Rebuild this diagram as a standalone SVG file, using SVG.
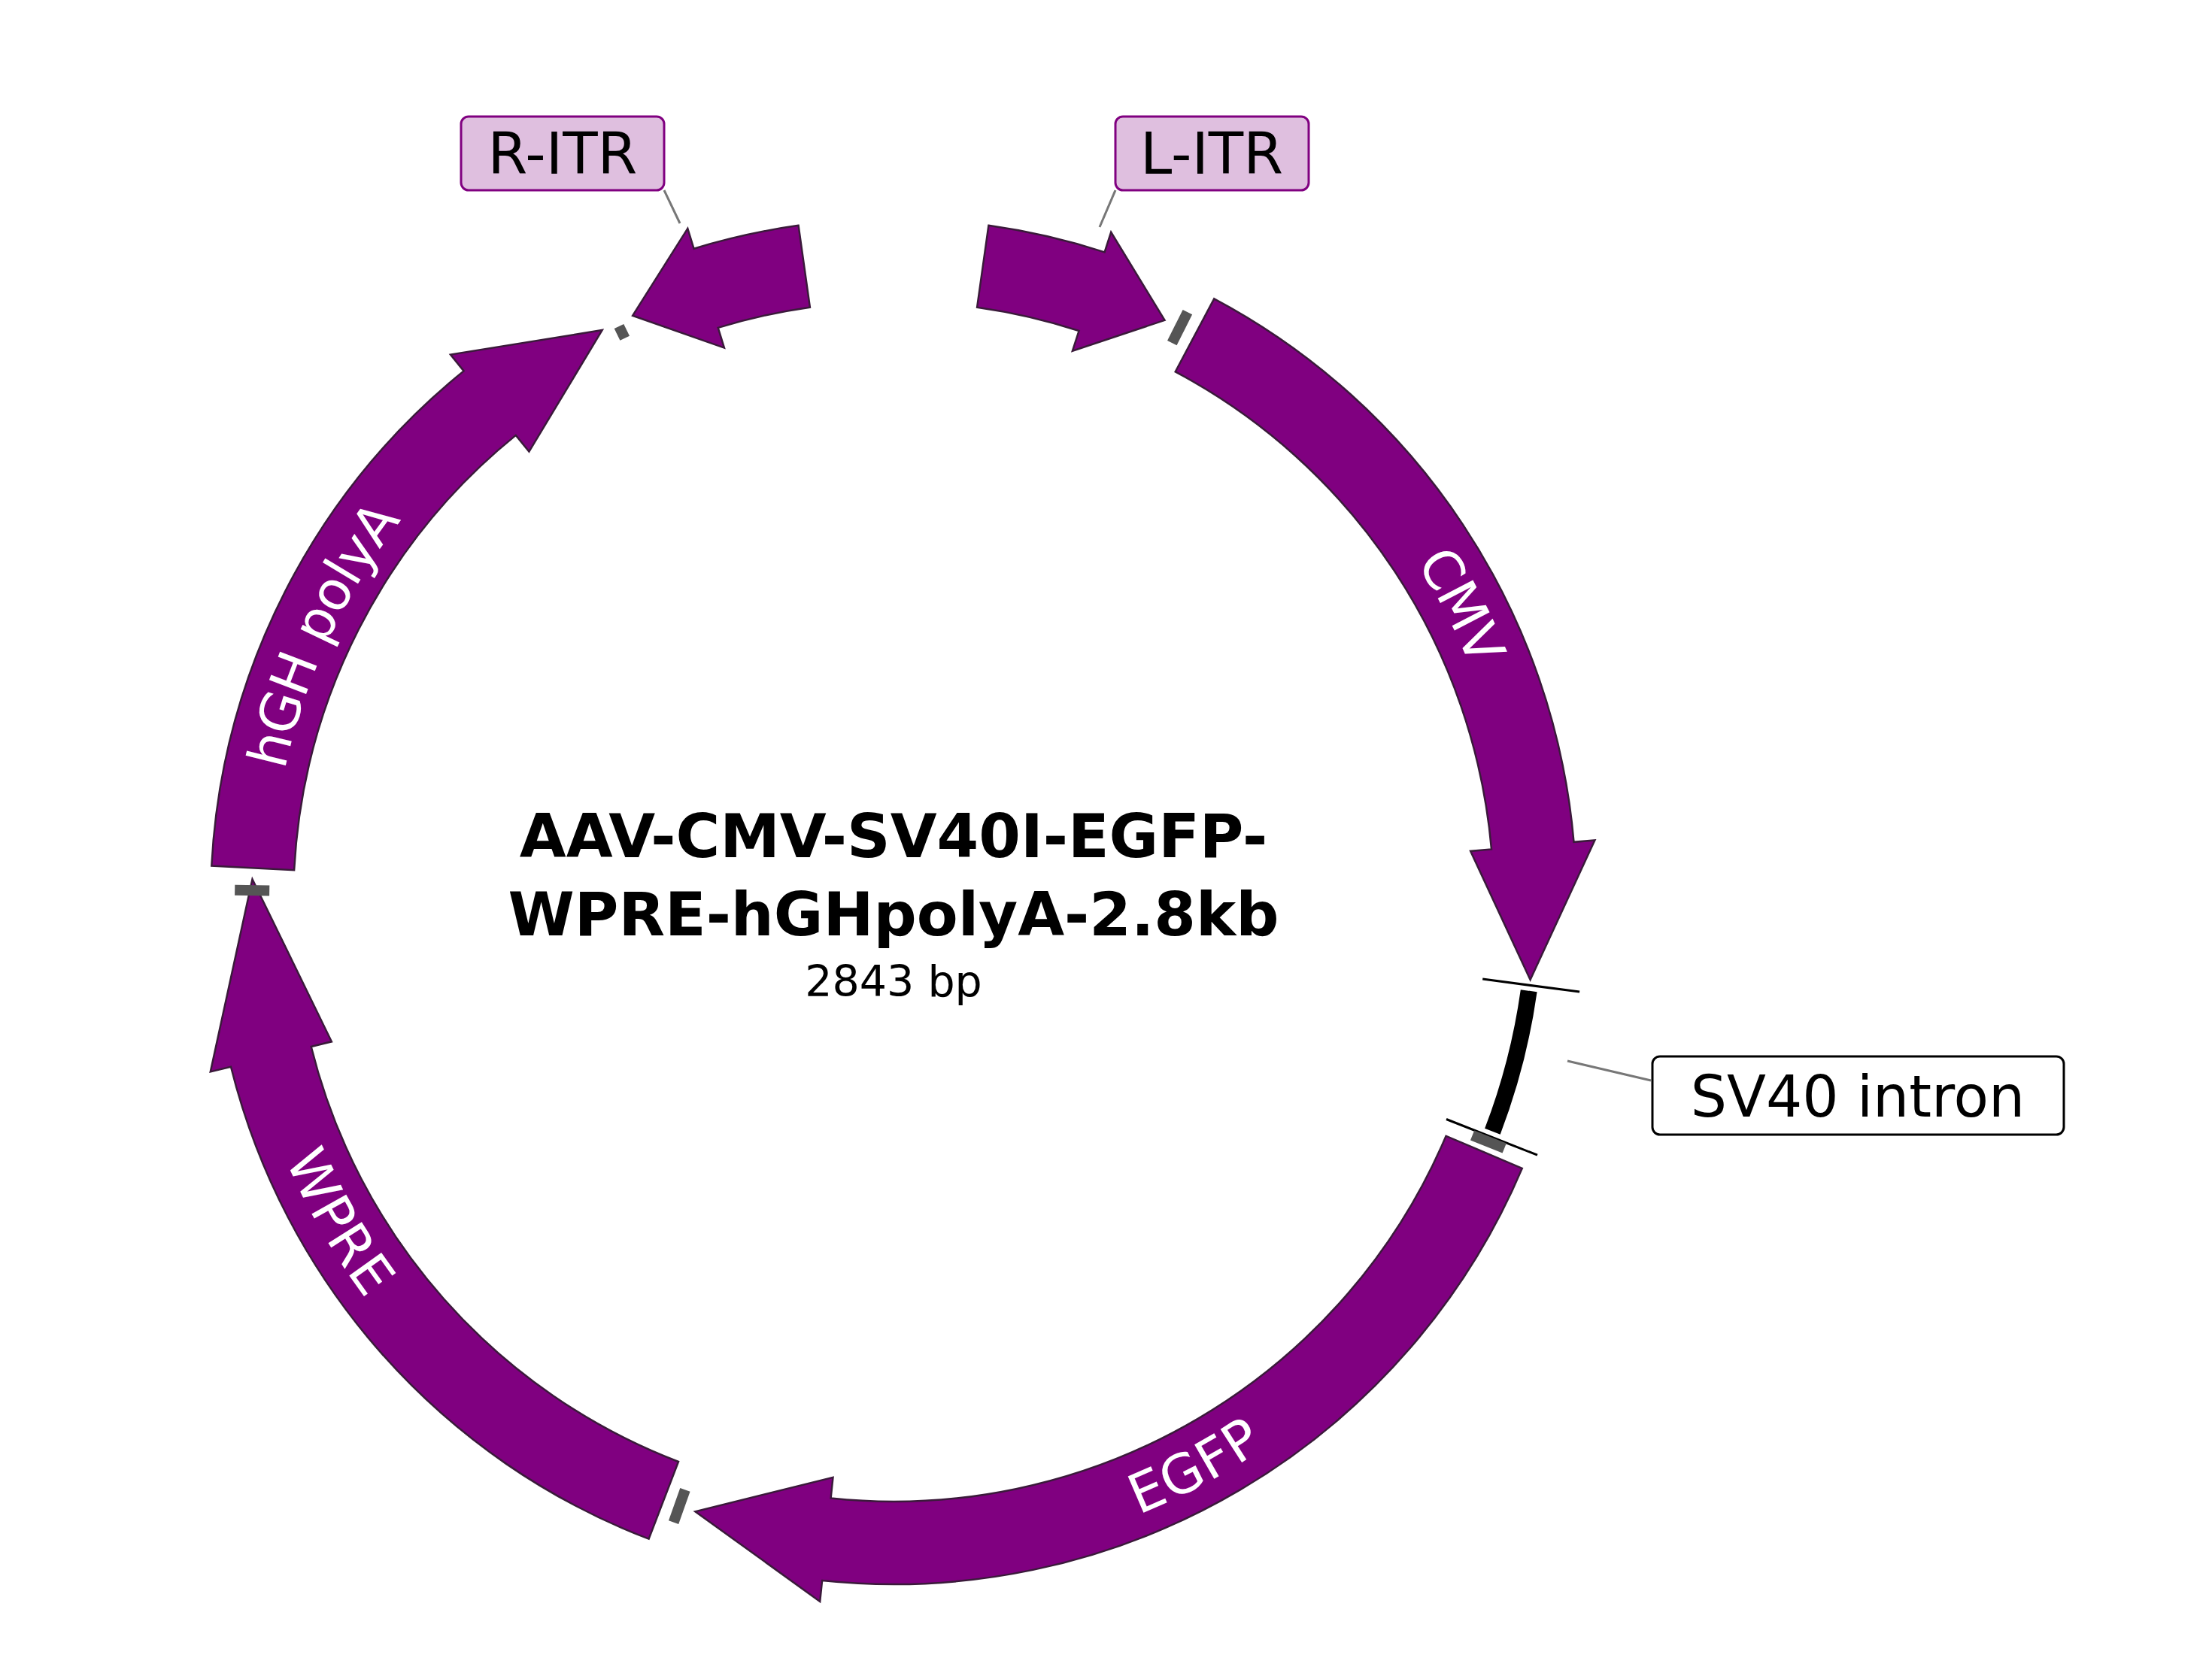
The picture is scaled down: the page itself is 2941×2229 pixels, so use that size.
<svg xmlns="http://www.w3.org/2000/svg" width="2941" height="2229" viewBox="0 0 2941 2229">
<style>
.f{fill:#800080;stroke:#3a1a3a;stroke-width:2.5}
.g{stroke:#555;stroke-width:14}
.lab{font-family:"DejaVu Sans",sans-serif;font-size:72px;fill:#fff}
.box{font-family:"DejaVu Sans",sans-serif;font-size:76px;fill:#000}
.t{font-family:"DejaVu Sans",sans-serif;font-weight:bold;font-size:80px;fill:#000;text-anchor:middle}
</style>
<defs>
<path id="pCMV" d="M426.5,-738.7 A853,853 0 0 1 849.8,74.4"/>
<path id="pHGH" d="M-849.8,74.4 A853,853 0 0 1 -489.3,-698.8"/>
<path id="pEGFP" d="M-29.8,852.5 A853,853 0 0 0 723.4,452"/>
<path id="pWPRE" d="M-848.3,-89.2 A853,853 0 0 0 -346.9,779.2"/>
</defs>
<rect width="2941" height="2229" fill="#fff"/>
<g transform="translate(1188,1199)">
<g id="L-ITR"><path class="f" d="M126.4,-899.2 A908,908 0 0 1 280.6,-863.6 L289.2,-890.2 L360.5,-773.1 L237.9,-732.3 L246.6,-759 A798,798 0 0 0 111.1,-790.3 Z"/></g>
<g id="CMV"><path class="f" d="M426.3,-801.7 A908,908 0 0 1 904.5,-79.2 L932.4,-81.6 L846.6,104 L767.1,-67.1 L795,-69.6 A798,798 0 0 0 374.7,-704.6 Z"/>
<text class="lab" dominant-baseline="central"><textPath href="#pCMV" startOffset="50%" text-anchor="middle">CMV</textPath></text></g>
<g id="SV40"><path d="M844.7,118.7 A853,853 0 0 1 796.4,305.7" fill="none" stroke="#000" stroke-width="22"/>
<line x1="783.2" y1="103.1" x2="912.1" y2="120.1" stroke="#000" stroke-width="3"/>
<line x1="735" y1="289.5" x2="856" y2="337.2" stroke="#000" stroke-width="3"/></g>
<g id="EGFP"><path class="f" d="M835.8,354.8 A908,908 0 0 1 -94.9,903 L-97.8,930.9 L-263.6,811.3 L-80.5,765.8 L-83.4,793.6 A798,798 0 0 0 734.6,311.8 Z"/>
<text class="lab" dominant-baseline="central"><textPath href="#pEGFP" startOffset="50%" text-anchor="middle">EGFP</textPath></text></g>
<g id="WPRE"><path class="f" d="M-325.4,847.7 A908,908 0 0 1 -881,219.7 L-908.2,226.4 L-852.5,-29.8 L-747.1,186.3 L-774.3,193 A798,798 0 0 0 -286,745 Z"/>
<text class="lab" dominant-baseline="central"><textPath href="#pWPRE" startOffset="50%" text-anchor="middle">WPRE</textPath></text></g>
<g id="hGH"><path class="f" d="M-906.7,-47.5 A908,908 0 0 1 -571.4,-705.6 L-589,-727.4 L-387.3,-760 L-484.6,-598.4 L-502.2,-620.1 A798,798 0 0 0 -796.9,-41.7 Z"/>
<text class="lab" dominant-baseline="central"><textPath href="#pHGH" startOffset="50%" text-anchor="middle">hGH polyA</textPath></text></g>
<g id="R-ITR"><path class="f" d="M-126.4,-899.2 A908,908 0 0 0 -265.5,-868.3 L-273.7,-895.1 L-346.9,-779.2 L-225.1,-736.4 L-233.3,-763.1 A798,798 0 0 1 -111.1,-790.3 Z"/></g>
<g id="joins">
<line class="g" x1="370.3" y1="-742.8" x2="390.9" y2="-783.9"/>
<line class="g" x1="769.6" y1="310.9" x2="812.2" y2="328.1"/>
<line class="g" x1="-277.1" y1="782.4" x2="-292.4" y2="825.7"/>
<line class="g" x1="-829.8" y1="-14.5" x2="-875.8" y2="-15.3"/>
<line class="g" x1="-357.3" y1="-749.2" x2="-365" y2="-765" stroke-width="10"/>
</g>
</g>
<g id="connectors" stroke="#777" stroke-width="3">
<line x1="883" y1="253" x2="904" y2="297"/>
<line x1="1483" y1="253" x2="1462" y2="302"/>
<line x1="2084" y1="1411" x2="2195" y2="1437"/>
</g>
<g id="lab-R-ITR"><rect x="613" y="155" width="270" height="98" rx="10" fill="#dfbfdf" stroke="#800080" stroke-width="3"/><text class="box" x="748" y="231" text-anchor="middle">R-ITR</text></g>
<g id="lab-L-ITR"><rect x="1483" y="155" width="257" height="98" rx="10" fill="#dfbfdf" stroke="#800080" stroke-width="3"/><text class="box" x="1611" y="231" text-anchor="middle">L-ITR</text></g>
<g id="lab-SV40"><rect x="2197" y="1405" width="547" height="104" rx="10" fill="#fff" stroke="#000" stroke-width="3"/><text class="box" x="2470" y="1485" text-anchor="middle">SV40 intron</text></g>
<g id="title">
<text class="t" x="1188" y="1140">AAV-CMV-SV40I-EGFP-</text>
<text class="t" x="1188" y="1244">WPRE-hGHpolyA-2.8kb</text>
<text x="1188" y="1325" text-anchor="middle" font-family="DejaVu Sans,sans-serif" font-size="57">2843 bp</text>
</g>
</svg>
